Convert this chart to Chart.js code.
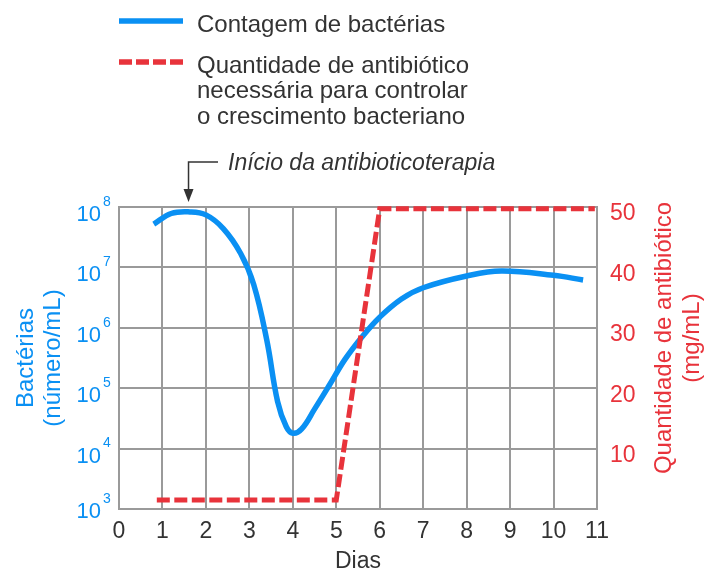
<!DOCTYPE html>
<html>
<head>
<meta charset="utf-8">
<script src="https://cdn.jsdelivr.net/npm/chart.js@4.4.1/dist/chart.umd.min.js"></script>
<style>
  html, body { margin: 0; padding: 0; background: #fff; }
  #wrap { width: 711px; height: 569px; position: relative; }
</style>
</head>
<body>
<div id="wrap"><canvas id="chart"></canvas></div>
<script>
// Blue curve: bacteria count (number/mL) per day
const bacteriaDays = [0.8, 1.2, 1.63, 2.0, 2.4, 2.8, 3.1, 3.4, 3.65, 3.85, 4.0, 4.2, 4.5, 4.85, 5.2, 5.6, 6.0, 6.5, 7.0, 8.0, 8.8, 10.0, 10.68];
const bacteriaCount = [5.2e7, 7.8e7, 8.3e7, 7.4e7, 4.4e7, 1.7e7, 5.2e6, 6.3e5, 6.0e4, 2.3e4, 1.8e4, 2.1e4, 4.5e4, 1.15e5, 3.0e5, 7.2e5, 1.5e6, 3.0e6, 4.6e6, 7.2e6, 8.7e6, 7.4e6, 6.2e6];

// Red dashed line: antibiotic needed (mg/mL)
const antibioticDays = [0.87, 5.0, 6.0, 10.95];
const antibioticDose = [1.5, 1.5, 49.7, 49.7];

// Axis ticks
const dayTicks = [0, 1, 2, 3, 4, 5, 6, 7, 8, 9, 10, 11];
const logExponents = [3, 4, 5, 6, 7, 8];
const doseTicks = [10, 20, 30, 40, 50];

const BLUE = '#0a90f3';
const RED = '#e8333b';
const GRID = '#9a9a9a';
const TEXT = '#333333';
const FONT = '"Liberation Sans", Arial, sans-serif';

const decorations = {
    id: 'decorations',
    afterDraw(chart) {
        const ctx = chart.ctx;
        const area = chart.chartArea;
        const yLeft = chart.scales.y;
        const yRight = chart.scales.y1;
        const xs = chart.scales.x;
        ctx.save();
        ctx.textBaseline = 'middle';

        // left tick labels 10^n
        ctx.fillStyle = BLUE;
        logExponents.forEach(e => {
            const y = yLeft.getPixelForValue(Math.pow(10, e));
            const off = e === 3 ? 3 : 8;
            ctx.font = '22px ' + FONT;
            ctx.textAlign = 'right';
            ctx.fillText('10', 101, y + off);
            ctx.font = '14px ' + FONT;
            ctx.textAlign = 'left';
            ctx.fillText(String(e), 103, y + off - 13);
        });

        // right tick labels
        ctx.fillStyle = RED;
        ctx.font = '23px ' + FONT;
        ctx.textAlign = 'left';
        doseTicks.forEach(v => {
            ctx.fillText(String(v), 610, yRight.getPixelForValue(v) + 7);
        });

        // axis titles
        const midY = (area.top + area.bottom) / 2;
        ctx.font = '24px ' + FONT;
        ctx.textAlign = 'center';
        ctx.fillStyle = BLUE;
        ctx.save();
        ctx.translate(26, midY);
        ctx.rotate(-Math.PI / 2);
        ctx.fillText('Bactérias', 0, 0);
        ctx.fillText('(número/mL)', 0, 27);
        ctx.restore();

        ctx.fillStyle = RED;
        ctx.save();
        ctx.translate(664, midY - 20);
        ctx.rotate(-Math.PI / 2);
        ctx.fillText('Quantidade de antibiótico', 0, 0);
        ctx.fillText('(mg/mL)', 0, 28);
        ctx.restore();

        ctx.fillStyle = TEXT;
        ctx.font = '23px ' + FONT;
        ctx.fillText('Dias', (area.left + area.right) / 2, 562);

        // legend
        ctx.lineWidth = 5.5;
        ctx.strokeStyle = BLUE;
        ctx.beginPath();
        ctx.moveTo(119, 21);
        ctx.lineTo(183, 21);
        ctx.stroke();
        ctx.strokeStyle = RED;
        ctx.setLineDash([13, 4]);
        ctx.beginPath();
        ctx.moveTo(119, 62);
        ctx.lineTo(183, 62);
        ctx.stroke();
        ctx.setLineDash([]);

        ctx.fillStyle = TEXT;
        ctx.font = '24px ' + FONT;
        ctx.textAlign = 'left';
        ctx.fillText('Contagem de bactérias', 197, 25);
        ctx.fillText('Quantidade de antibiótico', 197, 66);
        ctx.fillText('necessária para controlar', 197, 91.5);
        ctx.fillText('o crescimento bacteriano', 197, 117);

        // annotation arrow
        const ax = xs.getPixelForValue(1.6);
        ctx.strokeStyle = TEXT;
        ctx.lineWidth = 1.5;
        ctx.beginPath();
        ctx.moveTo(218, 162);
        ctx.lineTo(ax, 162);
        ctx.lineTo(ax, 191);
        ctx.stroke();
        ctx.fillStyle = TEXT;
        ctx.beginPath();
        ctx.moveTo(ax - 5, 189);
        ctx.lineTo(ax + 5, 189);
        ctx.lineTo(ax, 202);
        ctx.closePath();
        ctx.fill();
        ctx.font = 'italic 23px ' + FONT;
        ctx.fillText('Início da antibioticoterapia', 228, 164);

        ctx.restore();
    }
};

new Chart(document.getElementById('chart'), {
    type: 'line',
    data: {
        datasets: [
            {
                label: 'Quantidade de antibiótico necessária para controlar o crescimento bacteriano',
                data: antibioticDays.map((d, i) => ({ x: d, y: antibioticDose[i] })),
                yAxisID: 'y1',
                borderColor: RED,
                borderWidth: 5,
                borderDash: [13, 4.5],
                pointRadius: 0,
                tension: 0,
                clip: false,
                order: 0
            },
            {
                label: 'Contagem de bactérias',
                data: bacteriaDays.map((d, i) => ({ x: d, y: bacteriaCount[i] })),
                yAxisID: 'y',
                borderColor: BLUE,
                borderWidth: 5.5,
                pointRadius: 0,
                tension: 0.4,
                clip: false,
                order: 1
            }
        ]
    },
    options: {
        responsive: true,
        maintainAspectRatio: false,
        animation: false,
        layout: { padding: { top: 207, left: 0, right: 0, bottom: 0 } },
        plugins: {
            legend: { display: false },
            tooltip: { enabled: false }
        },
        scales: {
            x: {
                type: 'linear',
                position: 'bottom',
                min: 0,
                max: 11,
                afterBuildTicks: s => { s.ticks = dayTicks.map(v => ({ value: v })); },
                afterFit: s => { s.height = 60; },
                ticks: { color: TEXT, font: { size: 23, family: FONT }, padding: 9, maxRotation: 0 },
                grid: { color: GRID, lineWidth: 2, drawTicks: false },
                border: { color: GRID, width: 2 }
            },
            y: {
                type: 'logarithmic',
                position: 'left',
                min: 1e3,
                max: 1e8,
                afterBuildTicks: s => { s.ticks = logExponents.map(e => ({ value: Math.pow(10, e) })); },
                afterFit: s => { s.width = 119; },
                ticks: { display: false },
                grid: { color: GRID, lineWidth: 2, drawTicks: false },
                border: { color: GRID, width: 2 }
            },
            y1: {
                type: 'linear',
                position: 'right',
                min: 0,
                max: 50,
                afterBuildTicks: s => { s.ticks = doseTicks.map(v => ({ value: v })); },
                afterFit: s => { s.width = 114; },
                ticks: { display: false },
                grid: { display: false, drawTicks: false },
                border: { color: GRID, width: 2 }
            }
        }
    },
    plugins: [decorations]
});
</script>
</body>
</html>
